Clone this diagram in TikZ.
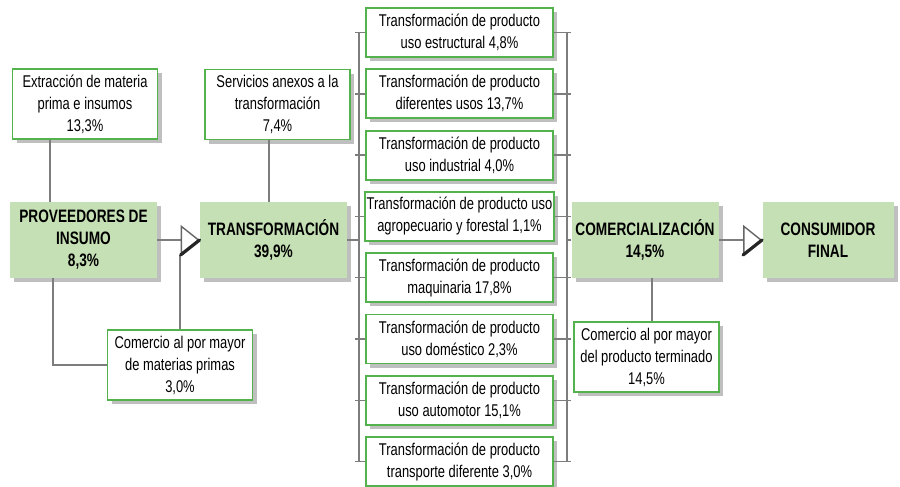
\documentclass[tikz,border=0pt]{standalone}
\usepackage{fontspec}
\setmainfont{Liberation Sans}[FakeStretch=0.76]
\usepackage{tikz}
\usetikzlibrary{calc,shadows,arrows.meta}
\definecolor{boxgreen}{RGB}{198,224,181}
\definecolor{edgegreen}{RGB}{84,178,76}
\definecolor{linegray}{RGB}{125,125,125}

\begin{document}
\begin{tikzpicture}[
  x=0.5pt,y=-0.5pt,
  sub/.style={draw=edgegreen,line width=0.9pt,fill=white,align=center,inner sep=1pt,
    minimum width=72.5pt,minimum height=35pt,font=\fontsize{8.5}{11}\selectfont,
    drop shadow={shadow xshift=2pt,shadow yshift=-2pt,fill=black!50,opacity=0.5}},
  prod/.style={sub,minimum width=93.5pt,minimum height=24.5pt},
  main/.style={fill=boxgreen,align=center,inner sep=1pt,minimum width=73.5pt,minimum height=38pt,
    font=\fontsize{9}{11}\selectfont\bfseries,
    drop shadow={shadow xshift=2pt,shadow yshift=-2pt,fill=black!50,opacity=0.5}},
  conn/.style={draw=linegray,line width=0.7pt},
  flow/.style={conn,-{Triangle[length=9.5pt,width=15pt,color=black!60,fill=white,line width=0.7pt]}},
  tipedge/.style={draw=black!85,line width=1.6pt,line cap=round}
  ]
\useasboundingbox (0,0) rectangle (900,487);
\def\tpx{459.5}
\def\tpdy{61.3}
\node[sub]  (ext)   at (85,104)   {Extracción de materia\\prima e insumos\\13,3\%};     % supplier input
\node[sub]  (serv)  at (277.5,104.5) {Servicios anexos a la\\transformación\\7,4\%};
\node[main] (prov)  at (83.5,240) {PROVEEDORES DE\\INSUMO\\8,3\%};
\node[main] (trans) at (273.5,240) {TRANSFORMACIÓN\\39,9\%};
\node[sub]  (comp)  at (180,365)  {Comercio al por mayor\\de materias primas\\3,0\%};
% product branches
\node[prod] (tp1) at (\tpx,{32.5+0*\tpdy}) {Transformación de producto\\uso estructural 4,8\%};
\node[prod] (tp2) at (\tpx,{32.5+1*\tpdy}) {Transformación de producto\\diferentes usos 13,7\%};
\node[prod] (tp3) at (\tpx,{32.5+2*\tpdy}) {Transformación de producto\\uso industrial 4,0\%};
\node[prod] (tp4) at (\tpx,{32.5+3*\tpdy}) {Transformación de producto uso\\agropecuario y forestal 1,1\%};
\node[prod] (tp5) at (\tpx,{32.5+4*\tpdy}) {Transformación de producto\\maquinaria 17,8\%};
\node[prod] (tp6) at (\tpx,{32.5+5*\tpdy}) {Transformación de producto\\uso doméstico 2,3\%};
\node[prod] (tp7) at (\tpx,{32.5+6*\tpdy}) {Transformación de producto\\uso automotor 15,1\%};
\node[prod] (tp8) at (\tpx,{32.5+7*\tpdy}) {Transformación de producto\\transporte diferente 3,0\%};
\node[main] (com)  at (645,240) {COMERCIALIZACIÓN\\14,5\%};
\node[main,minimum width=65.5pt] (cons) at (828,240) {CONSUMIDOR\\FINAL};
\node[sub]  (cpt)  at (646.5,357) {Comercio al por mayor\\del producto terminado\\14,5\%};
\coordinate (lb) at (359,0);                                     % left bracket
\coordinate (rb) at (567,0);                                     % right bracket
\coordinate (tipbase) at ($(trans.west)+(-19,15)$);              % lower corner of arrow
\coordinate (tipbase2) at ($(cons.west)+(-19,15)$);
% connectors
\draw[conn] ($(ext.south)+(-35,0)$) coordinate (e1) -- (e1 |- prov.north);
\draw[conn] ($(serv.south)+(-8.5,0)$) coordinate (s1) -- (s1 |- trans.north);
\draw[conn] ($(prov.south)+(-30.5,0)$) |- (comp.west);
\draw[conn] (comp.north) -- (comp.north |- tipbase);
\draw[flow] (prov) -- (trans);
\draw[tipedge] (tipbase) -- (trans.west);
\draw[conn] (trans) -- (trans -| lb);
\draw[conn] (lb |- tp1) -- (lb |- tp8);
\draw[conn] (rb |- tp1) -- (rb |- tp8);
\foreach \i in {1,...,8}{
  \draw[conn] ([xshift=-2pt]lb |- tp\i) -- (tp\i.west);
  \draw[conn] (tp\i.east) -- ([xshift=2pt]rb |- tp\i);
}
\draw[conn] (com) -- (com -| rb);
\draw[flow] (com) -- (cons);
\draw[tipedge] (tipbase2) -- (cons.west);
\draw[conn] ($(com.south)+(7,0)$) coordinate (c1) -- (c1 |- cpt.north);
\end{tikzpicture}
\end{document}
